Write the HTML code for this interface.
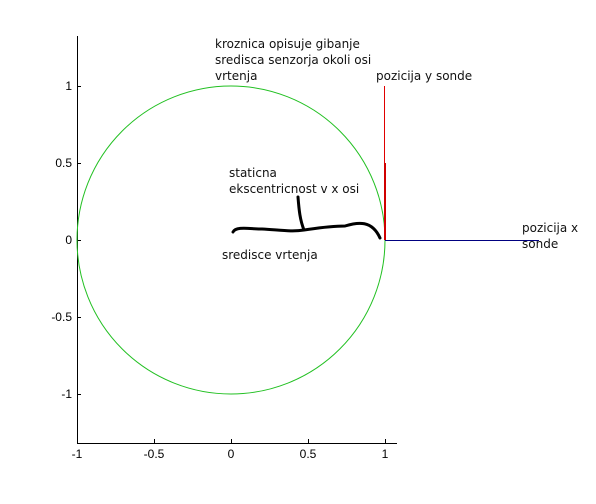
<!DOCTYPE html>
<html><head><meta charset="utf-8"><style>
body{margin:0;background:#fff;width:596px;height:499px;overflow:hidden}
svg text{font-family:"Liberation Sans",sans-serif}
.ann{font-family:"DejaVu Sans","Liberation Sans",sans-serif;font-size:12px;fill:#111}
.tk{font-size:12px;fill:#000}
</style></head><body>
<svg id="c" width="596" height="499">
<g id="g"></g>
</svg>
<script>
const xTicks=[-1,-0.5,0,0.5,1];
const xTickLabels=["-1","-0.5","0","0.5","1"];
const yTicks=[1,0.5,0,-0.5,-1];
const yTickLabels=["1","0.5","0","-0.5","-1"];
const circleCenter=[0,0];
const circleRadius=[1];
const probeY=[0,1];
const probeX=[1,2];
const NS='http://www.w3.org/2000/svg';
const g=document.getElementById('g');
const sx=v=>231+154*v, sy=v=>240-154*v;
function el(t,a){const e=document.createElementNS(NS,t);for(const k in a)e.setAttribute(k,a[k]);g.appendChild(e);return e;}
let ax=el('line',{x1:77.5,y1:36,x2:77.5,y2:443,stroke:'#000'});

let bx=el('line',{x1:77,y1:443.5,x2:397,y2:443.5,stroke:'#000'});

xTicks.forEach((v,i)=>{
 let t=el('line',{x1:sx(v)+0.5,y1:443,x2:sx(v)+0.5,y2:439,stroke:'#000'});
 
 let l=el('text',{x:sx(v),y:458,'text-anchor':'middle',class:'tk'});l.textContent=xTickLabels[i];
 
});
yTicks.forEach((v,i)=>{
 let t=el('line',{x1:77,y1:sy(v)+0.5,x2:81,y2:sy(v)+0.5,stroke:'#000'});
 
 let l=el('text',{x:72,y:sy(v)+4,'text-anchor':'end',class:'tk'});l.textContent=yTickLabels[i];
 
});
let c=el('circle',{cx:sx(circleCenter[0]),cy:sy(circleCenter[1]),r:154*circleRadius[0],fill:'none',stroke:'#22c022','stroke-width':1});

let r=el('line',{x1:sx(1)-0.5,y1:sy(probeY[0]),x2:sx(1)-0.5,y2:sy(probeY[1]),stroke:'#e00000','stroke-width':1});

let r2=el('line',{x1:sx(1),y1:sy(0),x2:sx(1),y2:sy(0.5),stroke:'#d00000','stroke-width':2});

let b=el('line',{x1:sx(probeX[0]),y1:sy(0)+0.5,x2:sx(probeX[1]),y2:sy(0)+0.5,stroke:'#000080','stroke-width':1});

let br=el('path',{d:'M233 232 C236 226 250 229 262 229 C280 230 292 232 304 230 C318 228 330 226 345 226 C358 222 372 220 380 238 M298 197 C299 210 300 220 304 230',fill:'none',stroke:'#000','stroke-width':3,'stroke-linecap':'round'});

const anns=[[215,48,'kroznica opisuje gibanje','circle-annotation'],[215,64,'sredisca senzorja okoli osi','circle-annotation'],[215,80,'vrtenja','circle-annotation'],
[376,80,'pozicija y sonde','probe-y-label'],[229,177,'staticna','eccentricity-label'],[229,193,'ekscentricnost v x osi','eccentricity-label'],
[222,259,'sredisce vrtenja','center-label'],[522,232,'pozicija x','probe-x-label'],[522,248,'sonde','probe-x-label']];
anns.forEach(a=>{let t=el('text',{x:a[0],y:a[1],class:'ann'});t.textContent=a[2];
 });
</script>
</body></html>
